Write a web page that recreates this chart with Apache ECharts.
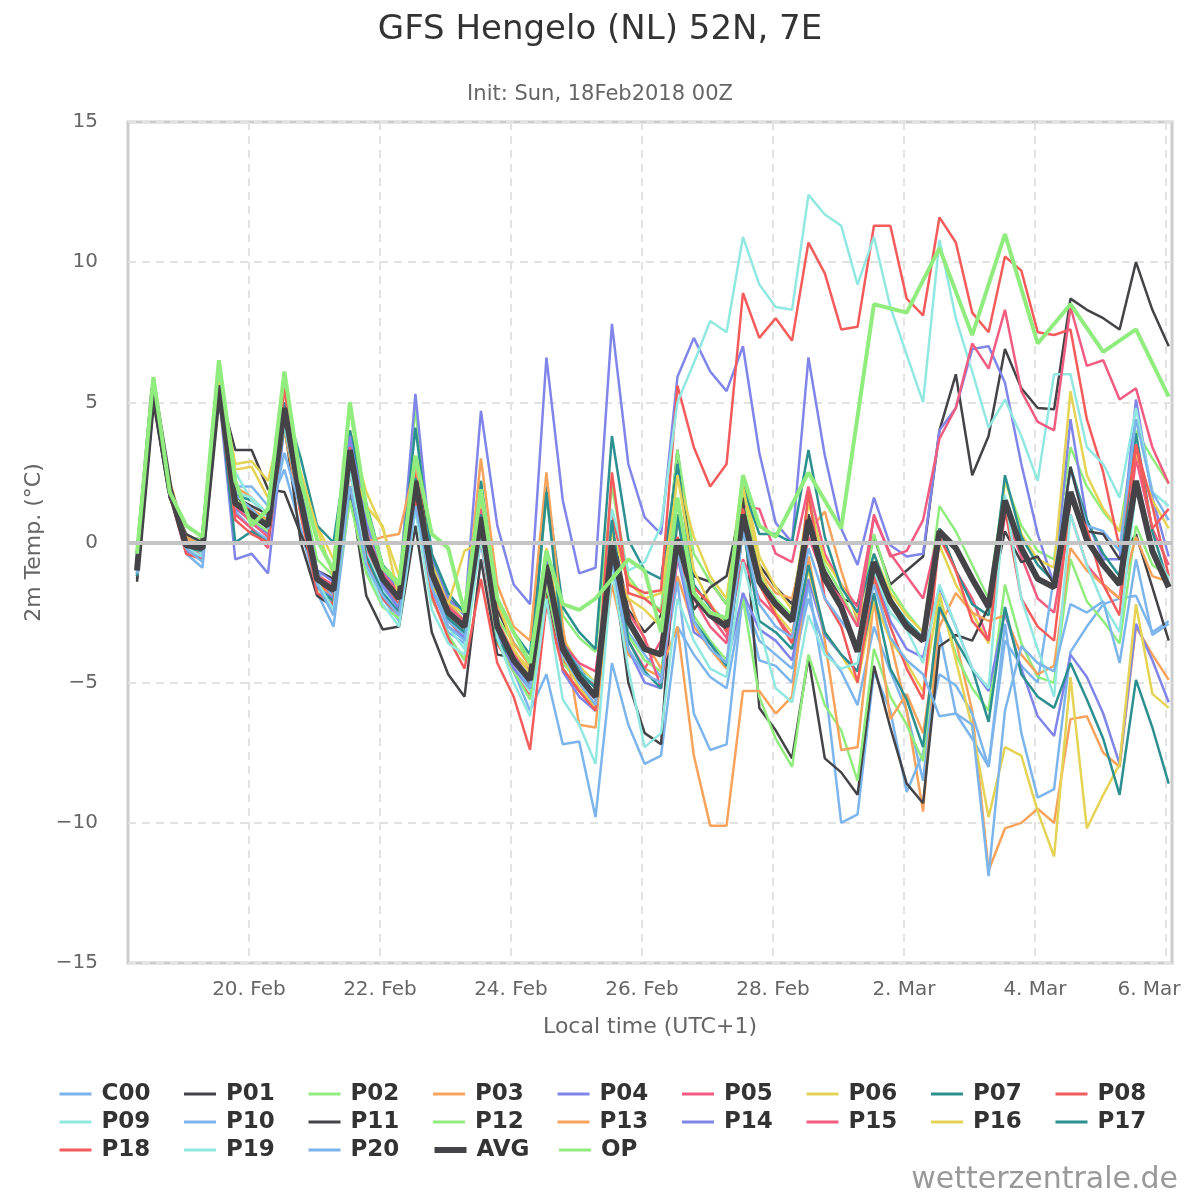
<!DOCTYPE html>
<html>
<head>
<meta charset="utf-8">
<title>GFS Hengelo (NL) 52N, 7E</title>
<script src="https://cdn.jsdelivr.net/npm/echarts@6/dist/echarts.min.js"></script>
<style>
html, body { margin: 0; padding: 0; background: #fff; }
#chart { width: 1200px; height: 1200px; }
</style>
</head>
<body>
<div id="chart"></div>
<script>
// GFS ensemble plume: 2m temperature for Hengelo, init 18 Feb 2018 00Z

const FONT = 'DejaVu Sans';

// x = hours after 20 Feb 2018 00:00 local time (UTC+1)
const firstHour = -41;   // first output step: 18 Feb 07:00 local
const stepHours = 6;
const xTickHours = [0, 48, 96, 144, 192, 240, 288, 336];
const xTickLabels = ['20. Feb', '22. Feb', '24. Feb', '26. Feb', '28. Feb', '2. Mar', '4. Mar', '6. Mar'];

const seriesNames = ['C00', 'P01', 'P02', 'P03', 'P04', 'P05', 'P06', 'P07', 'P08', 'P09',
    'P10', 'P11', 'P12', 'P13', 'P14', 'P15', 'P16', 'P17', 'P18', 'P19', 'P20', 'AVG', 'OP'];
const palette = ['#7cb5ec', '#434348', '#90ed7d', '#f7a35c', '#8085e9',
    '#f15c80', '#e4d354', '#2b908f', '#f45b5b', '#91e8e1'];

// one value per 6 h step (64 steps)
const c00 = [-1.2, 5.1, 1.7, -0.4, -0.9, 5.4, 2.0, 2.0,
    1.3, 2.6, 0.5, -1.8, -3.0, 1.6, -1.0, -2.0,
    -2.8, 1.2, -2.0, -3.2, -3.6, 0.0, -3.4, -4.6,
    -6.0, -4.7, -7.2, -7.1, -9.8, -4.3, -6.5, -7.9,
    -7.6, -3.0, -4.0, -4.8, -5.2, -2.0, -3.5, -4.0,
    -4.5, -2.0, -3.8, -4.6, -5.8, -3.0, -4.6, -6.0,
    -8.5, -3.2, -6.1, -7.0, -8.0, -2.9, -6.8, -9.1,
    -8.8, -3.9, -3.0, -2.2, -2.0, -1.9, -3.2, -2.8];
const p01 = [-1.4, 5.0, 1.6, 0.2, 0.1, 5.5, 3.3, 3.3,
    1.9, 1.8, 0.3, -1.0, -1.3, 3.0, 0.5, -1.0,
    -1.6, 2.9, -0.6, -2.0, -2.5, 1.4, -2.4, -3.6,
    -4.3, -0.3, -3.5, -4.5, -5.2, 0.5, -2.4, -3.2,
    -2.6, 3.3, -1.2, -1.4, -2.2, 1.5, -0.8, -1.6,
    -2.2, 1.0, -1.0, -2.0, -2.2, 0.2, -1.5, -1.0,
    -0.5, 4.0, 6.0, 2.4, 3.8, 6.9, 5.5, 4.8,
    4.75, 8.7, 8.3, 8.0, 7.6, 10.0, 8.3, 7.0];
const p02 = [-0.8, 5.8, 2.0, 0.2, 0.1, 6.3, 1.8, 1.0,
    0.8, 5.6, 2.0, -0.6, -1.2, 4.9, 0.9, -0.8,
    -1.4, 4.8, -0.7, -2.1, -2.8, 2.2, -2.7, -3.6,
    -4.2, 1.6, -2.6, -3.4, -3.9, 2.0, -1.2, -2.0,
    -2.4, 3.3, -0.4, -1.4, -2.2, 1.8, -1.2, -2.0,
    -2.6, 1.6, -0.8, -1.8, -3.0, 0.3, -1.6, -2.5,
    -3.2, 1.3, 0.4, -0.8, -2.0, 2.2, 0.6, -0.3,
    -0.6, 3.4, 2.0, 1.1, 0.4, 4.0, 3.0, 2.1];
const p03 = [-1.2, 5.3, 1.9, 0.2, -0.1, 5.2, 1.6, 1.2,
    0.8, 4.6, 1.7, -1.1, -1.6, 3.2, 0.5, -1.0,
    -1.7, 2.0, -1.2, -2.8, -3.2, 2.0, -2.2, -3.6,
    -4.4, -0.7, -3.9, -5.0, -6.0, -1.5, -4.0, -4.5,
    -4.8, -1.2, -3.0, -3.8, -4.5, 0.5, -1.0, -1.8,
    -2.0, 0.4, 1.1, -1.0, -2.8, -1.3, -3.5, -6.0,
    -9.6, -2.4, -3.5, -6.0, -11.7, -10.2, -10.0, -9.5,
    -10.0, -6.3, -6.2, -7.5, -8.0, -3.0, -4.0, -4.9];
const p04 = [-0.9, 5.6, 1.9, -0.2, -0.3, 5.8, 1.2, 0.8,
    0.3, 4.9, 1.8, -1.0, -1.4, 4.0, 0.7, -1.0,
    -1.7, 5.3, -0.5, -2.0, -2.6, 4.7, 0.6, -1.5,
    -2.2, 6.6, 1.5, -1.1, -0.9, 7.8, 2.8, 0.9,
    0.3, 5.9, 7.3, 6.1, 5.4, 7.0, 3.2, 0.7,
    0.0, 6.6, 3.1, 0.5, -0.8, 1.6, -0.1, -0.5,
    -0.4, 4.0, 4.8, 6.9, 7.0, 5.7, 2.8, 0.3,
    -1.5, 4.4, 0.8, -0.6, -0.6, 5.1, 1.6, -0.5];
const p05 = [-1.1, 5.4, 1.8, -0.1, -0.2, 5.5, 1.3, 0.7,
    0.2, 5.0, 1.4, -1.4, -1.9, 3.0, -0.2, -1.5,
    -2.3, 1.9, -1.4, -2.7, -3.3, 0.5, -3.4, -4.4,
    -5.0, -1.2, -4.2, -5.0, -5.6, -0.9, -3.5, -4.5,
    -3.5, 0.0, -2.0, -3.0, -3.6, 1.3, 1.2, -0.4,
    -0.7, 2.0, -0.4, -1.5, -2.3, 0.9, -0.4, -1.2,
    -2.0, 0.5, -1.0, -2.0, -3.5, 1.0, -0.5, -2.0,
    -2.5, 1.0, -0.8, -1.5, -2.0, 3.0, 0.5, -0.8];
const p06 = [-1.0, 5.6, 2.0, 0.1, -0.1, 5.9, 2.8, 2.9,
    2.2, 4.6, 1.8, 0.6, -0.6, 4.0, 1.8, 0.5,
    -1.2, 2.4, -0.8, -2.2, -2.5, 1.5, -2.8, -3.9,
    -4.5, -0.2, -3.4, -4.4, -5.0, 0.4, -1.4, -2.0,
    -1.8, 2.4, 0.2, -1.2, -2.0, 2.4, -0.5, -1.6,
    -2.4, 1.4, -0.6, -1.5, -2.6, -0.4, -1.8, -2.6,
    -3.2, -0.1, -1.5, -2.5, -3.6, 2.3, 0.3, -0.6,
    -0.9, 5.4, 2.4, 1.2, 0.4, 3.2, 1.5, 0.5];
const p07 = [-1.0, 5.6, 2.1, 0.0, -0.1, 5.7, 1.7, 1.5,
    1.0, 5.0, 3.0, 0.6, 0.0, 4.0, 1.4, -0.8,
    -1.6, 4.1, -0.4, -1.8, -2.5, 2.2, -2.0, -3.2,
    -4.0, 2.0, -2.3, -3.2, -3.8, 3.8, 0.1, -1.0,
    -1.3, 2.8, -1.5, -2.3, -2.8, 2.0, 0.3, 0.3,
    0.0, 3.3, 0.2, -1.6, -2.5, -0.4, -2.0, -2.8,
    -3.4, 0.5, -1.0, -2.2, -2.6, 2.4, 0.2, -0.8,
    -1.4, 2.7, 0.8, -0.4, -1.2, 3.9, 0.4, -1.5];
const p08 = [-1.0, 5.3, 1.7, -0.3, -0.4, 5.4, 1.6, 1.1,
    0.5, 5.5, 1.3, -1.4, -2.0, 3.6, 0.0, -1.6,
    -2.2, 2.6, -1.3, -2.8, -3.4, 0.2, -3.6, -4.6,
    -5.5, -1.8, -4.2, -4.9, -5.0, 1.0, -1.5, -1.8,
    -1.7, 5.6, 3.4, 2.0, 2.8, 8.9, 7.3, 8.0,
    7.2, 10.7, 9.6, 7.6, 7.7, 11.3, 11.3, 8.7,
    8.1, 11.6, 10.7, 8.2, 7.5, 10.2, 9.7, 7.5,
    7.4, 7.6, 4.4, 2.5, -0.2, 3.5, 1.3, -1.2];
const p09 = [-1.1, 5.4, 2.0, 0.0, -0.4, 5.9, 2.5, 1.5,
    0.9, 4.5, 1.2, -1.5, -2.2, 2.8, -0.4, -1.6,
    -2.6, 1.6, -1.5, -3.0, -3.8, 0.3, -3.2, -4.5,
    -5.3, -1.5, -4.0, -4.6, -5.0, 1.2, -1.0, -0.7,
    0.6, 5.0, 6.4, 7.9, 7.5, 10.9, 9.2, 8.4,
    8.3, 12.4, 11.7, 11.3, 9.2, 10.9, 8.4, 6.7,
    5.0, 10.8, 8.0, 6.1, 4.1, 5.1, 3.8, 2.2,
    6.0, 6.0, 3.4, 2.8, 1.6, 4.8, 1.8, 1.3];
const p10 = [-1.0, 5.4, 1.9, -0.3, -0.6, 5.5, 1.1, 0.5,
    0.1, 4.5, 1.9, -1.0, -2.0, 3.5, 0.3, -1.6,
    -2.3, 2.0, -1.3, -2.8, -3.3, 0.4, -3.2, -4.2,
    -5.0, -0.5, -3.6, -4.4, -5.6, -0.3, -3.2, -4.0,
    -4.8, -1.4, -6.1, -7.4, -7.2, -1.8, -4.2, -4.4,
    -5.0, -1.5, -5.0, -10.0, -9.7, -4.6, -6.0, -8.9,
    -7.5, -4.7, -5.1, -6.1, -8.0, -3.5, -4.4, -5.0,
    -1.2, 2.6, 0.6, 0.4, -0.3, 4.4, 1.8, 0.8];
const p11 = [-1.3, 5.2, 1.6, 0.3, 0.0, 5.5, 1.6, 1.3,
    1.0, 4.2, 0.0, -1.9, -2.3, 2.0, -1.9, -3.1,
    -3.0, 0.6, -3.2, -4.7, -5.5, -0.6, -4.0, -4.1,
    -5.2, -1.6, -4.5, -5.3, -5.8, -0.5, -5.0, -6.8,
    -7.2, 1.0, -2.4, -1.6, -1.2, 1.6, -5.9, -6.7,
    -7.7, -4.1, -7.7, -8.2, -9.0, -4.4, -6.6, -8.6,
    -9.3, -3.7, -3.3, -3.5, -2.3, 0.4, -0.7, -0.5,
    -1.5, 2.7, 0.4, 0.3, -0.6, 0.3, -1.6, -3.5];
const p12 = [-1.0, 5.7, 1.8, -0.1, 0.0, 6.1, 1.6, 0.8,
    0.4, 4.8, 1.0, -1.6, -2.4, 1.5, -1.1, -2.3,
    -2.7, 1.3, -2.0, -3.3, -4.2, 0.4, -3.5, -4.6,
    -5.6, -1.5, -4.3, -5.0, -5.4, -0.8, -3.3, -4.2,
    -4.6, -0.4, -2.6, -3.5, -4.2, -2.0, -5.5, -7.0,
    -8.0, -4.0, -5.8, -6.7, -8.5, -3.8, -5.5, -6.5,
    -7.8, -2.0, -4.0, -5.2, -6.0, -1.5, -3.6, -4.8,
    -5.0, -0.6, -2.1, -2.8, -3.6, 0.6, -0.8, -1.2];
const p13 = [-1.0, 5.4, 2.2, 0.1, -0.1, 5.3, 2.0, 1.6,
    1.0, 4.0, 1.0, -1.5, -2.0, 2.5, 0.0, 0.2,
    0.3, 2.8, -1.0, -2.2, -2.8, 3.0, -1.5, -3.0,
    -3.5, 2.5, -3.0, -6.5, -6.6, -0.6, -2.0, -3.5,
    -4.5, -3.0, -7.6, -10.1, -10.1, -5.3, -5.3, -6.1,
    -5.5, -0.5, -3.5, -7.4, -7.3, -2.0, -6.3, -5.4,
    -6.8, -3.0, -1.8, -2.5, -2.8, -2.6, -4.0, -4.7,
    -4.4, -0.2, -1.0, -1.5, -2.0, 0.2, -1.2, -1.4];
const p14 = [-1.2, 5.3, 1.8, -0.3, -0.5, 5.3, -0.6, -0.4,
    -1.1, 4.2, 1.6, -1.6, -2.0, 3.8, 0.4, -1.5,
    -2.4, 1.8, -1.7, -3.0, -3.4, 0.8, -3.3, -4.5,
    -5.2, -0.6, -4.6, -5.5, -6.0, -0.4, -3.8, -5.0,
    -5.2, -0.5, -3.2, -3.6, -4.4, -1.8, -3.1, -3.5,
    -4.2, -1.3, -3.3, -4.0, -4.6, -1.0, -2.8, -3.8,
    -4.1, -1.6, -3.0, -4.5, -5.3, -2.5, -4.5, -6.2,
    -6.9, -4.0, -4.8, -6.1, -7.9, -2.9, -4.2, -5.7];
const p15 = [-1.0, 5.5, 2.0, -0.2, -0.3, 5.4, 1.0, 0.5,
    -0.2, 4.6, 1.6, -1.2, -1.5, 3.4, 0.3, -1.1,
    -1.8, 2.3, -1.0, -2.3, -2.8, 1.2, -2.8, -4.0,
    -4.6, -0.9, -3.6, -4.3, -4.6, -0.5, -2.5, -3.4,
    -5.2, -0.6, -1.8, -2.6, -3.4, -0.6, -2.0, -2.6,
    -3.4, 0.2, -1.3, -2.0, -3.0, 1.0, -0.5, -0.3,
    0.8, 3.7, 4.8, 7.1, 6.2, 8.3, 5.4, 4.3,
    4.0, 8.4, 6.3, 6.5, 5.1, 5.5, 3.4, 2.1];
const p16 = [-1.1, 5.4, 2.1, 0.0, -0.3, 5.7, 2.6, 2.7,
    1.6, 4.0, 2.5, 0.5, -1.2, 2.8, 1.3, 0.6,
    -2.0, 1.6, -1.6, -2.2, -0.3, 0.0, -2.0, -3.8,
    -4.7, -1.3, -4.0, -5.2, -5.9, -1.0, -2.0, -2.4,
    -3.0, 2.4, -1.0, -2.2, -3.0, 2.0, -0.8, -2.5,
    -3.2, -1.0, -3.2, -4.0, -5.0, -2.0, -3.5, -4.3,
    -5.3, -1.8, -4.2, -6.6, -9.8, -7.3, -7.6, -9.6,
    -11.2, -4.8, -10.2, -9.0, -7.9, -2.2, -5.4, -5.9];
const p17 = [-1.2, 5.2, 1.8, -0.2, -0.3, 5.4, 0.0, 0.4,
    0.0, 4.2, 1.2, -1.6, -2.1, 2.8, -0.5, -1.8,
    -2.5, 2.3, -1.2, -2.7, -3.2, 1.0, -3.5, -4.2,
    -4.8, 1.8, -3.6, -4.6, -5.2, 0.8, -3.5, -4.6,
    -5.2, 1.0, -2.8, -3.6, -4.4, 0.5, -2.8, -3.2,
    -3.8, -0.8, -3.2, -4.0, -4.6, -1.8, -4.5, -5.6,
    -7.3, -2.3, -3.5, -4.5, -6.4, -2.3, -4.7, -5.5,
    -5.9, -4.3, -5.6, -7.0, -9.0, -4.9, -6.6, -8.6];
const p18 = [-0.9, 5.6, 1.7, -0.4, -0.6, 5.2, 0.8, 0.3,
    0.0, 4.4, 1.0, -1.8, -2.2, 2.6, -0.7, -2.0,
    -2.6, 1.5, -1.9, -3.4, -4.5, -1.3, -4.3, -5.5,
    -7.4, -2.2, -4.5, -5.3, -6.0, 2.5, -1.8, -2.0,
    -2.5, 0.2, -1.6, -2.2, -3.2, 1.2, -1.5, -2.6,
    -3.6, 1.8, -2.0, -3.0, -5.0, -1.2, -3.0, -4.5,
    -5.6, 0.2, -1.0, -2.8, -3.5, 1.2, -2.0, -3.0,
    -3.5, 1.5, 0.5, -1.5, -2.6, 3.5, 0.5, 1.2];
const p19 = [-1.1, 5.5, 1.9, -0.2, -0.5, 5.5, 1.8, 1.6,
    1.0, 4.2, 1.3, -1.4, -2.4, 2.6, -0.8, -2.2,
    -3.0, 1.2, -2.4, -3.6, -4.0, 0.2, -3.4, -5.0,
    -6.2, -2.0, -5.6, -6.5, -7.9, -1.0, -4.5, -7.3,
    -6.8, -2.0, -3.5, -4.5, -4.8, -0.7, -3.0, -5.2,
    -5.7, -2.6, -4.0, -4.5, -4.3, -1.0, -2.5, -3.1,
    -4.3, -1.5, -3.0, -4.5, -5.2, 1.7, -2.0, -3.8,
    -5.5, 1.0, -0.8, -2.2, -3.2, 1.9, -0.2, -1.3];
const p20 = [-1.1, 5.3, 1.8, -0.2, -0.7, 5.6, 1.7, 1.2,
    0.5, 3.2, 1.2, -1.5, -2.6, 2.0, -0.8, -1.9,
    -2.6, 1.3, -1.6, -3.0, -3.5, 0.6, -3.0, -4.3,
    -5.2, -1.2, -4.0, -5.0, -5.8, -0.6, -3.8, -4.7,
    -5.0, -0.4, -2.8, -3.8, -4.3, 0.5, -2.2, -3.0,
    -3.4, -0.2, -2.0, -2.8, -3.6, -1.5, -3.4, -4.2,
    -4.7, -6.2, -6.1, -6.5, -11.9, -6.0, -3.7, -4.3,
    -4.6, -2.2, -2.5, -2.1, -4.3, -0.6, -3.3, -2.9];
const avg = [-1.0, 5.5, 1.9, -0.1, -0.2, 5.6, 1.4, 1.0,
    0.6, 4.8, 1.5, -1.3, -1.7, 3.3, 0.1, -1.3,
    -2.0, 2.2, -1.1, -2.5, -3.0, 0.9, -3.0, -4.2,
    -4.9, -0.8, -3.8, -4.8, -5.5, -0.1, -2.8, -3.8,
    -4.0, 0.1, -1.9, -2.6, -3.0, 1.0, -1.4, -2.2,
    -2.8, 0.8, -1.3, -2.3, -3.9, -0.7, -2.1, -3.0,
    -3.5, 0.4, -0.2, -1.3, -2.3, 1.5, -0.2, -1.3,
    -1.6, 1.8, 0.1, -0.8, -1.5, 2.2, -0.3, -1.6];
// operational run: 12-hourly after day 10 (null = no output)
const op = [-0.4, 5.9, 1.8, 0.6, 0.2, 6.5, 2.2, 0.6,
    1.2, 6.1, 2.2, 0.1, -1.0, 5.0, 1.2, -0.9,
    -1.5, 3.1, 0.3, -0.2, -2.5, 1.9, -2.0, -3.2,
    -4.3, -0.3, -2.2, -2.4, -2.0, -1.3, -0.6, -1.0,
    -3.2, 1.6, -1.8, -2.5, -2.7, 2.4, 0.6, 0.2,
    null, 2.5, null, 0.5, null, 8.5, null, 8.2,
    null, 10.5, null, 7.4, null, 11.0, null, 7.1,
    null, 8.5, null, 6.8, null, 7.6, null, 5.2];

const memberValues = [c00, p01, p02, p03, p04, p05, p06, p07, p08, p09,
    p10, p11, p12, p13, p14, p15, p16, p17, p18, p19, p20];

function toPairs(values) {
    const out = [];
    values.forEach(function(v, i) {
        if (v !== null) out.push([firstHour + i * stepHours, v]);
    });
    return out;
}

function lineSeries(name, values, color, width, z) {
    return {
        name: name,
        type: 'line',
        data: toPairs(values),
        symbol: 'none',
        lineStyle: { color: color, width: width },
        itemStyle: { color: color },
        emphasis: { disabled: true },
        z: z,
        animation: false
    };
}

const series = memberValues.map(function(vals, k) {
    return lineSeries(seriesNames[k], vals, palette[k % 10], 2.5, 2);
});
series.push(lineSeries('AVG', avg, '#434348', 6, 3));
series.push(lineSeries('OP', op, '#90ed7d', 4, 3));

// 0 °C reference line
series[0].markLine = {
    silent: true,
    symbol: ['none', 'none'],
    label: { show: false },
    lineStyle: { color: '#c4c4c4', width: 4, type: 'solid' },
    data: [{ yAxis: 0 }],
    animation: false
};

// legend: plain line keys, thicker one for the average
const legendData = seriesNames.map(function(name) {
    return { name: name, lineStyle: { width: name === 'AVG' ? 6 : 3 } };
});

const gridLine = { color: '#e2e2e2', width: 2, type: [8, 6] };

const chart = echarts.init(document.getElementById('chart'));
chart.setOption({
    animation: false,
    backgroundColor: '#ffffff',
    title: [
        {
            text: 'GFS Hengelo (NL) 52N, 7E',
            left: 'center',
            top: 8,
            textStyle: { fontFamily: FONT, fontSize: 34, fontWeight: 'normal', color: '#333333' }
        },
        {
            text: 'Init: Sun, 18Feb2018 00Z',
            left: 'center',
            top: 79,
            textStyle: { fontFamily: FONT, fontSize: 21, fontWeight: 'normal', color: '#666666' }
        }
    ],
    grid: {
        left: 128,
        right: 28,
        top: 122,
        bottom: 237,
        show: true,
        borderColor: '#cccccc',
        borderWidth: 3
    },
    xAxis: {
        type: 'value',
        min: -44.3,
        max: 338.2,
        axisLine: { show: false },
        axisTick: { show: false, customValues: xTickHours },
        axisLabel: {
            customValues: xTickHours,
            formatter: function(v) {
                const k = xTickHours.indexOf(v);
                if (k < 0) return '';
                // last label is pulled inside the chart like the original
                return k === xTickHours.length - 1 ? '{last|' + xTickLabels[k] + '}' : xTickLabels[k];
            },
            rich: {
                last: { fontFamily: FONT, fontSize: 20, color: '#666666', padding: [0, 34, 0, 0] }
            },
            fontFamily: FONT,
            fontSize: 20,
            color: '#666666',
            margin: 17
        },
        splitLine: { show: true, lineStyle: gridLine },
        name: 'Local time (UTC+1)',
        nameLocation: 'middle',
        nameGap: 53,
        nameTextStyle: { fontFamily: FONT, fontSize: 22, color: '#666666' }
    },
    yAxis: {
        type: 'value',
        min: -15,
        max: 15,
        interval: 5,
        axisLine: { show: false },
        axisTick: { show: false },
        axisLabel: {
            formatter: function(v) { return v < 0 ? '\u2212' + (-v) : String(v); },
            fontFamily: FONT,
            fontSize: 20,
            color: '#666666',
            margin: 30
        },
        splitLine: { show: true, lineStyle: gridLine },
        name: '2m Temp. (°C)',
        nameLocation: 'middle',
        nameGap: 72,
        nameTextStyle: { fontFamily: FONT, fontSize: 22, color: '#666666' }
    },
    legend: {
        data: legendData,
        left: 58,
        top: 1080,
        width: 1140,
        padding: 0,
        itemWidth: 32,
        itemHeight: 14,
        itemGap: 0,
        selectedMode: false,
        itemStyle: { color: 'rgba(0,0,0,0)', borderWidth: 0 },
        textStyle: {
            fontFamily: FONT,
            fontSize: 23,
            fontWeight: 'bold',
            color: '#333333',
            width: 81,
            lineHeight: 28,
            padding: [0, 0, 0, 5]
        }
    },
    graphic: [{
        type: 'text',
        right: 22,
        bottom: 5,
        silent: true,
        style: { text: 'wetterzentrale.de', fontFamily: FONT, fontSize: 30, fill: '#999999' }
    }],
    series: series
});

window.addEventListener('resize', function() {
    chart.resize();
});
</script>
</body>
</html>
